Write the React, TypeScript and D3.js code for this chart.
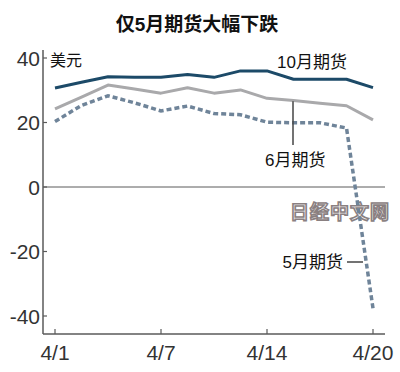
import { useRef, useEffect } from "react";
import * as d3 from "d3";

// trading days, April 2020 (4/10 closed)
const dates = ["4/1", "4/2", "4/3", "4/6", "4/7", "4/8", "4/9", "4/13", "4/14", "4/15", "4/16", "4/17", "4/20"];
const tickDates = ["4/1", "4/7", "4/14", "4/20"];
const yTicks = [40, 20, 0, -20, -40];

const oct = [30.7, 32.5, 34.2, 34.0, 34.0, 34.9, 34.0, 36.0, 36.0, 33.4, 33.4, 33.4, 30.8];
const jun = [24.2, 27.9, 31.6, 30.4, 29.1, 30.8, 29.1, 30.1, 27.5, 26.8, 26.0, 25.2, 20.8];
const may = [20.3, 25.3, 28.3, 26.1, 23.6, 25.1, 22.8, 22.4, 20.1, 19.9, 19.9, 18.3, -37.6];

const FONT = "'Liberation Sans', 'Noto Sans CJK SC', sans-serif";
const NARROW = "'Liberation Sans Narrow', 'Liberation Sans', sans-serif";

export default function App() {
  const svgRef = useRef<SVGSVGElement>(null);

  useEffect(() => {
    if (!svgRef.current) return;
    const svg = d3.select(svgRef.current);
    svg.selectAll("*").remove();

    const x = d3.scalePoint<string>().domain(dates).range([55, 373]);
    const y = d3.scaleLinear().domain([-40, 40]).range([316, 58]);
    const axisColor = "#5a5a5a";
    const left = 43;
    const right = 385;
    const bottom = 334;

    // title
    svg.append("text")
      .attr("x", 197).attr("y", 31)
      .attr("text-anchor", "middle")
      .attr("font-family", FONT)
      .attr("font-size", 19).attr("font-weight", "bold")
      .attr("fill", "#111")
      .text("仅5月期货大幅下跌");

    // watermark
    svg.append("text")
      .attr("x", 340).attr("y", 219)
      .attr("text-anchor", "middle")
      .attr("font-family", FONT)
      .attr("font-size", 19).attr("font-weight", "bold")
      .attr("fill", "#fbfbfb")
      .attr("stroke", "#8a8081").attr("stroke-width", 1.6)
      .attr("letter-spacing", 1)
      .text("日经中文网");

    // axes
    svg.append("line")
      .attr("x1", left).attr("x2", left).attr("y1", 50).attr("y2", bottom)
      .attr("stroke", axisColor).attr("stroke-width", 1.5);
    svg.append("line")
      .attr("x1", left).attr("x2", right).attr("y1", bottom).attr("y2", bottom)
      .attr("stroke", axisColor).attr("stroke-width", 1.5);
    svg.append("line")
      .attr("x1", left).attr("x2", right).attr("y1", y(0)).attr("y2", y(0))
      .attr("stroke", axisColor).attr("stroke-width", 1);

    const yt = svg.append("g").selectAll("g").data(yTicks).enter().append("g");
    yt.append("line")
      .attr("x1", left).attr("x2", left + 4)
      .attr("y1", (d) => y(d)).attr("y2", (d) => y(d))
      .attr("stroke", axisColor).attr("stroke-width", 1.2);
    yt.append("text")
      .attr("x", 40).attr("y", (d) => y(d) + 7.5)
      .attr("text-anchor", "end")
      .attr("font-family", NARROW).attr("font-size", 21)
      .attr("fill", "#333")
      .text((d) => `${d}`);

    const xt = svg.append("g").selectAll("g").data(tickDates).enter().append("g");
    xt.append("line")
      .attr("x1", (d) => x(d)!).attr("x2", (d) => x(d)!)
      .attr("y1", bottom - 5).attr("y2", bottom)
      .attr("stroke", axisColor).attr("stroke-width", 1.2);
    xt.append("text")
      .attr("x", (d) => x(d)!).attr("y", 360)
      .attr("text-anchor", "middle")
      .attr("font-family", NARROW).attr("font-size", 21)
      .attr("fill", "#333")
      .text((d) => d);

    // unit
    svg.append("text")
      .attr("x", 50).attr("y", 66)
      .attr("font-family", FONT).attr("font-size", 16)
      .attr("fill", "#111")
      .text("美元");

    const line = d3.line<number>()
      .x((_, i) => x(dates[i])!)
      .y((d) => y(d));

    svg.append("path").datum(jun)
      .attr("d", line).attr("fill", "none")
      .attr("stroke", "#a9a9ab").attr("stroke-width", 3)
      .attr("stroke-linejoin", "round");
    svg.append("path").datum(may)
      .attr("d", line).attr("fill", "none")
      .attr("stroke", "#6f8499").attr("stroke-width", 3.5)
      .attr("stroke-dasharray", "5,3");
    svg.append("path").datum(oct)
      .attr("d", line).attr("fill", "none")
      .attr("stroke", "#1c4a68").attr("stroke-width", 3)
      .attr("stroke-linejoin", "round");

    // labels
    svg.append("text")
      .attr("x", 277).attr("y", 68)
      .attr("font-family", FONT).attr("font-size", 17)
      .attr("fill", "#111")
      .text("10月期货");

    svg.append("line")
      .attr("x1", 293).attr("x2", 293)
      .attr("y1", y(26.6)).attr("y2", 145)
      .attr("stroke", "#444").attr("stroke-width", 1.5);
    svg.append("text")
      .attr("x", 265).attr("y", 166)
      .attr("font-family", FONT).attr("font-size", 17)
      .attr("fill", "#111")
      .text("6月期货");

    svg.append("line")
      .attr("x1", 347).attr("x2", 363)
      .attr("y1", 262).attr("y2", 262)
      .attr("stroke", "#444").attr("stroke-width", 1.5);
    svg.append("text")
      .attr("x", 343).attr("y", 268)
      .attr("text-anchor", "end")
      .attr("font-family", FONT).attr("font-size", 17)
      .attr("fill", "#111")
      .text("5月期货");
  }, []);

  return (
    <svg
      ref={svgRef}
      width={400}
      height={372}
      style={{ position: "absolute", left: 0, top: 0, background: "#fff" }}
    />
  );
}
